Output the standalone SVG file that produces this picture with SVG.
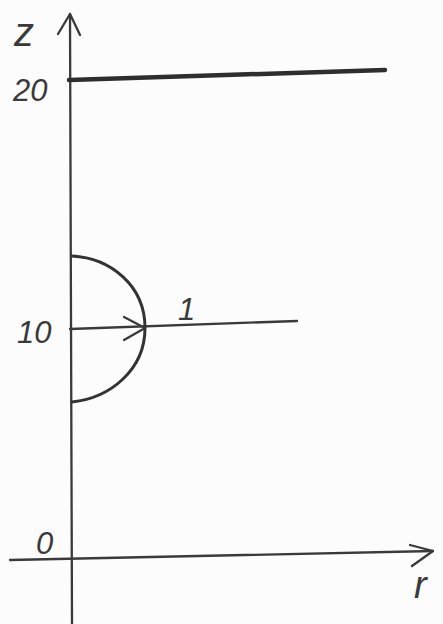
<svg xmlns="http://www.w3.org/2000/svg" width="443" height="624" viewBox="0 0 443 624">
<style>
.ln{stroke:#3a3a3a;stroke-width:2.3;fill:none;stroke-linecap:round;stroke-linejoin:round}
.thick{stroke:#2e2e2e;stroke-width:4.5;fill:none;stroke-linecap:round}
.curve{stroke:#333;stroke-width:3;fill:none;stroke-linecap:round}
.lbl{font-family:"Liberation Sans",Arial,sans-serif;font-style:italic;fill:#3a3a3a;font-size:31px}
</style>
<rect width="443" height="624" fill="#fcfcfc"/>
<g id="connectors">
<path id="z-axis" class="ln" d="M70,14 L72,624"/>
<path class="ln" d="M58,34 L70,14 L80,35"/>
<path id="r-axis" class="ln" d="M10,560 L433,551"/>
<path class="ln" d="M410,545 L433,551 L412,566"/>
<path id="radius" class="ln" d="M70,329 L297,321"/>
<path class="ln" d="M124,317 L145,328 L124,340"/>
</g>
<g id="plane-z20">
<path class="thick" d="M69,80 L385,70"/>
</g>
<g id="hemisphere">
<path class="curve" d="M72,256 C110,258 145,285 145,328 C145,370 110,398 72,402"/>
</g>
<g id="labels">
<text class="lbl" x="14" y="46" style="font-size:40px">z</text>
<text class="lbl" x="13" y="101">20</text>
<text class="lbl" x="17" y="343">10</text>
<text class="lbl" x="178" y="320">1</text>
<text class="lbl" x="36" y="554">0</text>
<text class="lbl" x="414" y="598" style="font-size:38px">r</text>
</g>
</svg>
